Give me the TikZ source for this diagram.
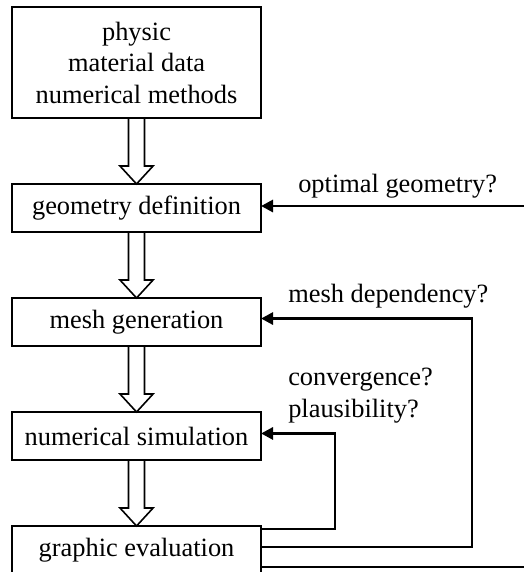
\documentclass[tikz,border=0pt]{standalone}
\usepackage{fontspec}
\setmainfont{Liberation Serif}
\usepackage{tikz}
\usetikzlibrary{positioning,calc,arrows.meta}

\begin{document}
\begin{tikzpicture}[node distance=49.5pt]
    \tikzstyle{stage} = [rectangle, draw, line width=1.6pt, outer sep=0pt, minimum width=186.75pt, minimum height=36pt, text centered, font=\fontsize{19.8}{23.6}\selectfont]
    \tikzstyle{question} = [anchor=base west, inner sep=0pt, align=left, font=\fontsize{19.8}{24}\selectfont]
    \tikzstyle{fback} = [line width=2.2pt, -{Triangle[length=9pt,width=9pt]}]
    \tikzstyle{hollow} = [line width=1.2pt, line join=miter]

    \useasboundingbox (0,0) rectangle (393pt,-429pt);

    \node (input) [stage, minimum height=83.25pt, align=center, anchor=north] at (102.4pt,-5.25pt) {physic\\material data\\numerical methods};
    \node (geom) [stage, below=of input] {geometry definition};
    \node (mesh) [stage, below=of geom] {mesh generation};
    \node (sim) [stage, below=of mesh] {numerical simulation};
    \node (eval) [stage, below=of sim] {graphic evaluation};

    % hollow arrows between the stages
    \foreach \from/\to in {input/geom, geom/mesh, mesh/sim, sim/eval}
        \draw [hollow] ([xshift=-6pt]\from.south) -- ([xshift=-6pt,yshift=13.5pt]\to.north) -- ([xshift=-12.4pt,yshift=13.5pt]\to.north) -- (\to.north) -- ([xshift=12.4pt,yshift=13.5pt]\to.north) -- ([xshift=6pt,yshift=13.5pt]\to.north) -- ([xshift=6pt]\from.south);

    \node (qgeo) [question] at (223.5pt,-144pt) {optimal geometry?};
    \node (qmesh) [question] at (216pt,-226.5pt) {mesh dependency?};
    \node (qsim) [question] at (216pt,-312.75pt) {convergence?\\plausibility?};

    \coordinate (cgeo) at (400pt,-154.5pt);
    \coordinate (cmesh) at (354pt,-238.9pt);
    \coordinate (csim) at (251.25pt,-325.1pt);

    % feedback loops
    \draw [fback] ([yshift=-12.75pt]eval.east) -| (cgeo) -- (cgeo -| geom.east);
    \draw [fback] ([yshift=2.25pt]eval.east) -| (cmesh) -- (cmesh -| mesh.east);
    \draw [fback] ([yshift=15.75pt]eval.east) -| (csim) -- (csim -| sim.east);
\end{tikzpicture}
\end{document}
